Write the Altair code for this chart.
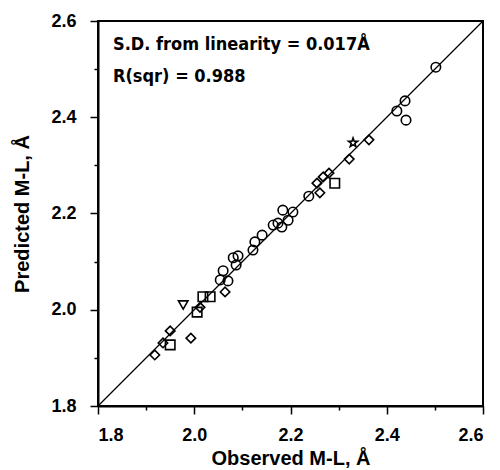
import altair as alt
import pandas as pd

# Observed vs predicted M-L distances (Å), with marker type per point
observed = [
    1.918, 1.935, 1.950, 1.950, 1.993, 1.977, 2.006, 2.012, 2.018, 2.033, 2.064,
    2.054, 2.060, 2.070, 2.081, 2.087, 2.091, 2.122, 2.126, 2.141,
    2.164, 2.174, 2.182, 2.184, 2.195, 2.205, 2.238, 2.261,
    2.255, 2.268, 2.280, 2.292, 2.322, 2.330, 2.363,
    2.421, 2.438, 2.440, 2.502,
]
predicted = [
    1.906, 1.931, 1.927, 1.956, 1.941, 2.010, 1.995, 2.005, 2.027, 2.027, 2.037,
    2.062, 2.081, 2.060, 2.108, 2.093, 2.112, 2.124, 2.141, 2.155,
    2.176, 2.180, 2.172, 2.207, 2.186, 2.203, 2.236, 2.243,
    2.263, 2.276, 2.284, 2.263, 2.313, 2.347, 2.353,
    2.413, 2.434, 2.394, 2.504,
]
marker = [
    "diamond", "diamond", "square", "diamond", "diamond", "triangle", "square", "diamond", "square", "square", "diamond",
    "circle", "circle", "circle", "circle", "circle", "circle", "circle", "circle", "circle",
    "circle", "circle", "circle", "circle", "circle", "circle", "circle", "diamond",
    "diamond", "diamond", "diamond", "square", "diamond", "star", "diamond",
    "circle", "circle", "circle", "circle",
]

line_x = [1.8, 2.6]
line_y = [1.8, 2.6]

annotations = ["S.D. from linearity = 0.017Å", "R(sqr) = 0.988"]

x_title = "Observed M-L, Å"
y_title = "Predicted M-L, Å"
tick_values = [1.8, 1.9, 2.0, 2.1, 2.2, 2.3, 2.4, 2.5, 2.6]

df = pd.DataFrame({"obs": observed, "pred": predicted, "marker": marker})
line_df = pd.DataFrame({"obs": line_x, "pred": line_y})

star_path = ("M0,-1 L0.235,-0.324 L0.951,-0.309 L0.380,0.124 L0.588,0.809 "
             "L0,0.4 L-0.588,0.809 L-0.380,0.124 L-0.951,-0.309 L-0.235,-0.324 Z")

major_test = "round(datum.value*10) % 2 == 0"
label_expr = major_test + " ? format(datum.value, '.1f') : ''"

axis_common = dict(
    values=tick_values,
    labelExpr=label_expr,
    grid=False,
    domainColor="black",
    domainWidth=2,
    tickColor="black",
    tickWidth=1.5,
    tickSize={"condition": {"test": major_test, "value": 8}, "value": 4},
    labelFont="Liberation Sans",
    labelFontWeight="bold",
    labelFontSize=18,
    labelColor="black",
    titleFont="Liberation Sans",
    titleFontWeight="bold",
    titleFontSize=20,
    titleColor="black",
)

xscale = alt.Scale(domain=[1.8, 2.6], nice=False, zero=False)
yscale = alt.Scale(domain=[1.8, 2.6], nice=False, zero=False)

line = alt.Chart(line_df).mark_line(color="black", strokeWidth=1.3).encode(
    x=alt.X("obs:Q", scale=xscale,
            axis=alt.Axis(title=x_title, labelPadding=12, titlePadding=4, **axis_common)),
    y=alt.Y("pred:Q", scale=yscale,
            axis=alt.Axis(title=y_title, labelPadding=14, titlePadding=18, **axis_common)),
)

points = alt.Chart(df).mark_point(filled=False, color="black", strokeWidth=1.6, size=90, opacity=1).encode(
    x=alt.X("obs:Q", scale=xscale),
    y=alt.Y("pred:Q", scale=yscale),
    shape=alt.Shape(
        "marker:N",
        scale=alt.Scale(
            domain=["circle", "diamond", "square", "triangle", "star"],
            range=["circle", "diamond", "square", "triangle-down", star_path],
        ),
        legend=None,
    ),
)

text_font = "DejaVu Sans Condensed, Liberation Sans"
text_layers = []
for t, ypix in zip(annotations, [29, 61]):
    text_layers.append(
        alt.Chart(pd.DataFrame({"text": [t]})).mark_text(
            align="left", baseline="alphabetic", font=text_font,
            fontWeight="bold", fontSize=18, color="black",
        ).encode(x=alt.value(15), y=alt.value(ypix), text="text:N")
    )

chart = alt.layer(line, points, *text_layers).properties(
    width=385,
    height=385,
    autosize=alt.AutoSizeParams(type="none"),
    padding={"left": 90, "top": 13, "right": 8, "bottom": 64},
).configure_view(stroke="black", strokeWidth=2)

chart.save("out.html", embed_options={"renderer": "svg", "actions": False})
